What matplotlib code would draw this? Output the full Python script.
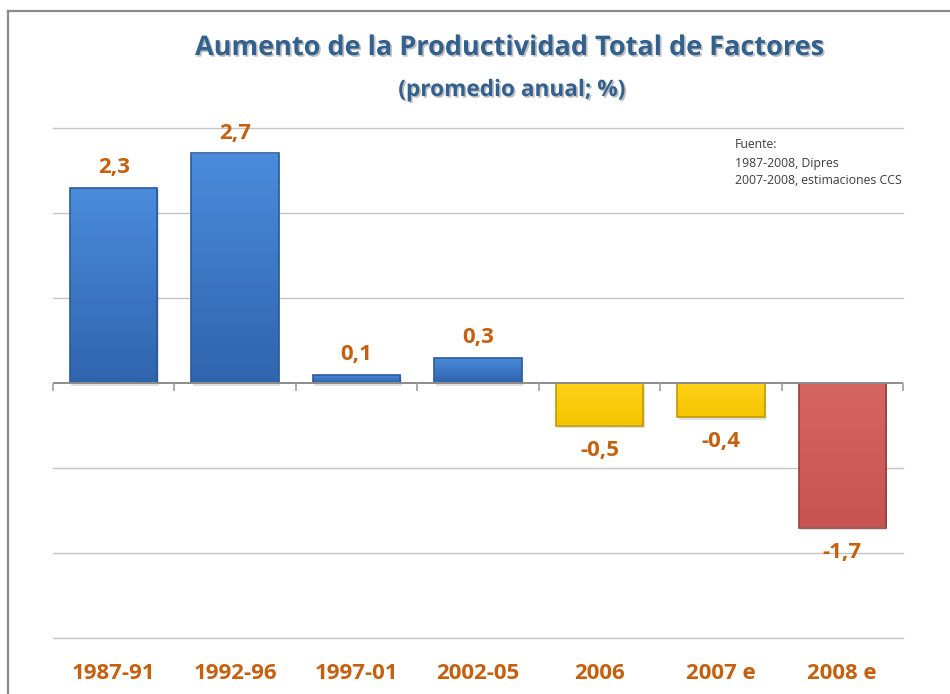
import matplotlib
matplotlib.use("Agg")
import matplotlib.pyplot as plt
import numpy as np
from matplotlib.lines import Line2D
from matplotlib import font_manager as fm
import matplotlib.patheffects as pe

categories = ["1987-91", "1992-96", "1997-01", "2002-05", "2006", "2007 e", "2008 e"]
values = [2.3, 2.7, 0.1, 0.3, -0.5, -0.4, -1.7]
value_labels = ["2,3", "2,7", "0,1", "0,3", "-0,5", "-0,4", "-1,7"]
bar_groups = ["blue", "blue", "blue", "blue", "yellow", "yellow", "red"]
y_ticks = [-3, -2, -1, 0, 1, 2, 3]

title = "Aumento de la Productividad Total de Factores"
subtitle = "(promedio anual; %)"
source_lines = ["Fuente:", "1987-2008, Dipres", "2007-2008, estimaciones CCS"]

palette = {
    "blue": ("#4a8cdc", "#3064ae", "#2c5a98"),
    "yellow": ("#ffd21a", "#f5c400", "#c09a00"),
    "red": ("#d66460", "#c85452", "#98403e"),
}

avail = {f.name for f in fm.fontManager.ttflist}
fam = [f for f in ["Liberation Sans Narrow", "Open Sans", "DejaVu Sans"] if f in avail]
plt.rcParams['font.family'] = fam

fig = plt.figure(figsize=(9.5, 6.94), dpi=100)
ax = fig.add_axes([53/950, 1-638/694, 850/950, 510/694])
ax.set_xlim(-0.5, len(categories) - 0.5)
ax.set_ylim(-3, 3)

for y in y_ticks:
    if y != 0:
        ax.axhline(y, color="#c4c4c4", lw=1.0, zorder=0, clip_on=False)

x = np.arange(len(categories))
width = 0.72
bars = ax.bar(x, values, width=width, color="none", zorder=3)
for b, grp in zip(bars, bar_groups):
    top_c, bot_c, edge_c = palette[grp]
    b.set_edgecolor(edge_c)
    b.set_linewidth(1.2)
    x0, y0 = b.get_x(), b.get_y()
    w, h = b.get_width(), b.get_height()
    ylo, yhi = min(y0, y0 + h), max(y0, y0 + h)
    c1 = np.array(matplotlib.colors.to_rgb(top_c))
    c2 = np.array(matplotlib.colors.to_rgb(bot_c))
    t = np.linspace(0, 1, 64)[:, None]
    grad = (c1 * (1 - t) + c2 * t)[:, None, :]
    grad = np.repeat(grad, 2, axis=1)
    im = ax.imshow(grad, extent=(x0, x0 + w, ylo, yhi), aspect="auto",
                   origin="upper", zorder=2, interpolation="bilinear")
    im.set_clip_path(b)
    sh = plt.Rectangle((x0 + 0.012, ylo - 0.03), w, yhi - ylo, color="#000000",
                       alpha=0.12, zorder=1.5, lw=0)
    ax.add_patch(sh)

ax.set_aspect("auto")
ax.set_xlim(-0.5, len(categories) - 0.5)
ax.set_ylim(-3, 3)

ax.axhline(0, color="#8c8c8c", lw=1.4, zorder=4)
for bx in np.arange(len(categories) + 1) - 0.5:
    ax.plot([bx, bx], [0, -0.09], color="#a0a0a0", lw=1.2, zorder=4,
            clip_on=False, solid_capstyle="butt")

label_color = "#c4600e"
for xi, v, lab in zip(x, values, value_labels):
    off = 14.5 if v >= 0 else -18
    ax.annotate(lab, (xi, v), xytext=(0, off), textcoords="offset points",
                ha="center", va="center", fontsize=16, fontweight="bold",
                color=label_color, zorder=5)

ax.set_xticks(x)
ax.set_xticklabels(categories, fontsize=16, fontweight="bold", color=label_color)
ax.tick_params(axis="x", length=0, pad=18)
ax.set_yticks([])
for s in ax.spines.values():
    s.set_visible(False)

shadow = [pe.withSimplePatchShadow(offset=(1.2, -1.2), shadow_rgbFace="#000000", alpha=0.25)]
fig.text(510/950, 1-48/694, title, ha="center", va="center", fontsize=19.5,
         fontweight="bold", color="#33618f", path_effects=shadow)
fig.text(512/950, 1-90/694, subtitle, ha="center", va="center", fontsize=16.3,
         fontweight="bold", color="#33618f", path_effects=shadow)

for i, line in enumerate(source_lines):
    fig.text(735/950, 1-(145 + 18*i)/694, line, ha="left", va="center",
             fontsize=8.8, color="#3c3c3c")

fig.add_artist(Line2D([8/950, 1.0], [1-11/694, 1-11/694], color="#8a8a8a", lw=1.6))
fig.add_artist(Line2D([8/950, 8/950], [0, 1-11/694], color="#8a8a8a", lw=1.6))

fig.savefig("out.png", dpi=100)
